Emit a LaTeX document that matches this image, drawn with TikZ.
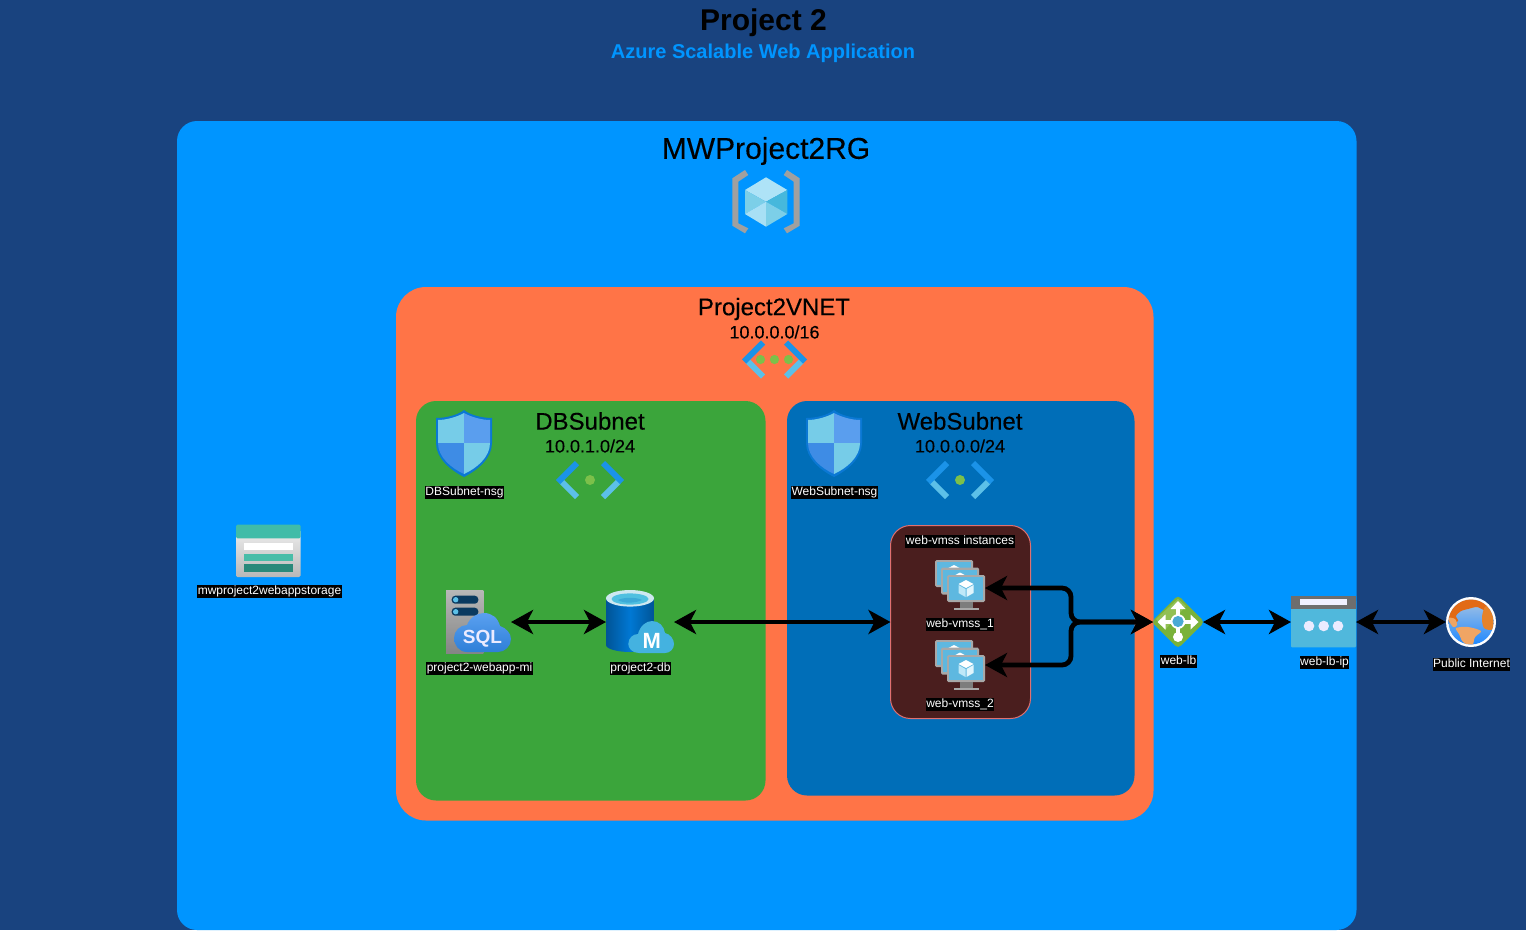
\documentclass[tikz,border=0pt]{standalone}
\usepackage{fontspec}
\setmainfont{Liberation Sans}
\newfontfamily\headfont[FakeBold=0.25]{Liberation Sans}
\usetikzlibrary{arrows.meta,calc}
\definecolor{pagebg}{HTML}{19437F}
\definecolor{rgblue}{HTML}{0095FF}
\definecolor{vnetor}{HTML}{FF7447}
\definecolor{dbgreen}{HTML}{3BA53B}
\definecolor{webblue}{HTML}{006EB8}
\definecolor{vmssbg}{HTML}{4A1E1E}
\definecolor{vmssbd}{HTML}{E07070}
\definecolor{chevd}{HTML}{1B93E8}
\definecolor{chevl}{HTML}{5CC0E8}
\definecolor{dotg}{HTML}{7CC04A}
\definecolor{vmframe}{HTML}{A8A8A8}
\definecolor{vmscreen}{HTML}{5EB8E0}
\tikzset{
  every node/.style={inner sep=0pt,outer sep=0pt},
  region/.style={rounded corners=#1},
  tlabel/.style={fill=black,text=white,font=\fontsize{12}{14}\selectfont,inner xsep=0.5pt,inner ysep=0.5pt,text height=9pt,text depth=3pt},
  heading/.style={text=black,font=\headfont\fontsize{#1}{#1}\selectfont},
  anchorbox/.style n args={2}{minimum width=#1,minimum height=#2,inner sep=0pt,outer sep=0pt},
  link/.style={draw=black,line width=4.8pt,{Stealth[length=22pt,width=24pt,inset=6pt]}-{Stealth[length=22pt,width=24pt,inset=6pt]}},
  elbow/.style={link,rounded corners=9pt},
}
% shield, centred on x=0, y from 0 (top) to 67
\newcommand\shieldicon[2]{%
  \begin{scope}[shift={(#1,#2)}]
    \fill[color={rgb,255:red,10;green,120;blue,212}] (0,0) .. controls (6,5) and (18,8) .. (28,8) -- (28,33) .. controls (28,48) and (14,60) .. (0,67) .. controls (-14,60) and (-28,48) .. (-28,33) -- (-28,8) .. controls (-18,8) and (-6,5) .. (0,0) -- cycle;
    \begin{scope}
      \clip (0,3) .. controls (7,7) and (18,10) .. (26,10) -- (26,33) .. controls (26,47) and (13,58) .. (0,64) .. controls (-13,58) and (-26,47) .. (-26,33) -- (-26,10) .. controls (-18,10) and (-7,7) .. (0,3) -- cycle;
      \fill[color={rgb,255:red,118;green,204;blue,232}] (-28,0) rectangle (0,33);
      \fill[color={rgb,255:red,90;green,158;blue,238}] (0,0) rectangle (28,33);
      \fill[color={rgb,255:red,62;green,140;blue,229}] (-28,33) rectangle (0,67);
      \fill[color={rgb,255:red,118;green,204;blue,232}] (0,33) rectangle (28,67);
    \end{scope}
  \end{scope}}
% chevrons, tip centre-line at half width #3
\newcommand\chevrons[3]{%
  \begin{scope}[shift={(#1,#2)}]
    \draw[chevl,line width=6pt] (-#3+1.5,1.5) -- (-#3+17,17);
    \draw[chevl,line width=6pt] (#3-1.5,1.5) -- (#3-17,17);
    \draw[chevd,line width=6pt,miter limit=4] (-#3-2,2) -- (-#3+17,-17);
    \draw[chevd,line width=6pt] (#3+2,2) -- (#3-17,-17);
  \end{scope}}
% small cube on monitor
\newcommand\smallcube[2]{%
  \begin{scope}[shift={(#1,#2)}]
    \fill[white] (0,-8) -- (7.5,-4) -- (0,0) -- (-7.5,-4) -- cycle;
    \fill[color={rgb,255:red,190;green,232;blue,248}] (-7.5,-3) -- (-0.5,1) -- (-0.5,9) -- (-7.5,5) -- cycle;
    \fill[color={rgb,255:red,225;green,245;blue,252}] (7.5,-3) -- (0.5,1) -- (0.5,9) -- (7.5,5) -- cycle;
  \end{scope}}
\newcommand\onemonitor[2]{%
  \fill[vmframe,rounded corners=1.5pt] (#1,#2) rectangle ++(38,27);
  \fill[vmscreen] ($(#1,#2)+(2.2,2.2)$) rectangle ++(33.6,22.4);
  \smallcube{#1+19}{#2+13}}
% monitor stack with front-monitor corner at (#1,#2)
\newcommand\vmstack[2]{%
  \begin{scope}[shift={(#1,#2)}]
    \onemonitor{-12}{-15}
    \onemonitor{-6}{-7.5}
    \onemonitor{0}{0}
    \fill[color={rgb,255:red,125;green,125;blue,125}] (12.5,27) rectangle (26,32.5);
    \fill[vmframe] (6.5,32.5) rectangle (32,35);
  \end{scope}}
\begin{document}
\begin{tikzpicture}[x=1pt,y=-1pt]
\useasboundingbox (0,0) rectangle (1526,930);
\fill[pagebg] (0,0) rectangle (1526,930);

% titles
\node[font=\fontsize{30}{30}\selectfont\bfseries,text=black] (title) at (763.5,23) {Project 2};
\node[font=\fontsize{20}{20}\selectfont\bfseries,text=rgblue] (subtitle) at (763,53) {Azure Scalable Web Application};

% regions
\fill[rgblue,region=20pt] (177,121) rectangle (1356.5,930);
\fill[vnetor,region=30pt] (396,287) rectangle (1153.5,820.5);
\fill[dbgreen,region=20pt] (416,401) rectangle (765.5,800.5);
\fill[webblue,region=20pt] (787,401) rectangle (1134.5,795.5);
\filldraw[fill=vmssbg,draw=vmssbd,line width=1pt,region=20pt] (890.5,525.5) rectangle (1030.5,718.5);
\node[anchorbox={140pt}{193pt}] (vmss) at (960.5,622) {};

% region headings
\node[heading=30] (rgname) at (766,151) {MWProject2RG};
\node[heading=24] (vnetname) at (774,309) {Project2VNET};
\node[heading=18] (vnetcidr) at (774.5,332) {10.0.0.0/16};
\node[heading=24] (dbname) at (590,421) {DBSubnet};
\node[heading=18] (dbcidr) at (590,446) {10.0.1.0/24};
\node[heading=24] (webname) at (960,421) {WebSubnet};
\node[heading=18] (webcidr) at (960,446) {10.0.0.0/24};

% resource group icon
\begin{scope}
  \fill[color={rgb,255:red,160;green,160;blue,160}] (732.3,178.3) -- (745,170) -- (748.3,175) -- (738.3,181.7) -- (738.3,223.3) -- (748.3,228.3) -- (745,233.3) -- (732.3,225.7) -- cycle;
  \fill[color={rgb,255:red,160;green,160;blue,160}] (799.7,178.3) -- (787,170) -- (783.7,175) -- (793.7,181.7) -- (793.7,223.3) -- (783.7,228.3) -- (787,233.3) -- (799.7,225.7) -- cycle;
  \fill[color={rgb,255:red,174;green,227;blue,247}] (766,177.3) -- (787.3,190) -- (766,201.7) -- (745,190) -- cycle;
  \fill[color={rgb,255:red,124;green,207;blue,232}] (745,190) -- (766,201.7) -- (745,214) -- cycle;
  \fill[color={rgb,255:red,70;green,184;blue,220}] (787.3,190) -- (766,201.7) -- (787.3,214) -- cycle;
  \fill[color={rgb,255:red,168;green,224;blue,245}] (745,214) -- (766,201.7) -- (766,226.7) -- cycle;
  \fill[color={rgb,255:red,124;green,207;blue,232}] (787.3,214) -- (766,201.7) -- (766,226.7) -- cycle;
\end{scope}

% vnet icon
\chevrons{774.5}{359.5}{28.5}
\foreach \dx in {-14,0,14} \fill[dotg] (774.5+\dx,359.5) circle (4.6);

% subnet icons
\chevrons{590}{480}{30}
\fill[dotg] (590,480) circle (5);
\chevrons{960}{480}{30}
\fill[dotg] (960,480) circle (5);

% NSG shields
\shieldicon{464}{410}
\shieldicon{834}{410}
\node[tlabel] (dbnsg) at (464.5,492.5) {DBSubnet-nsg};
\node[tlabel] (webnsg) at (834.5,492.5) {WebSubnet-nsg};

% storage account
\node[anchorbox={65pt}{53pt}] (storage) at (268.5,550.5) {};
\begin{scope}
  \shade[top color=white!93!black,bottom color=white!72!black,rounded corners=1.5pt] (236,530) rectangle (300.7,577);
  \fill[color={rgb,255:red,64;green,188;blue,168},rounded corners=1.5pt] (236,524.5) rectangle (300.7,538.3);
  \fill[white] (244,543.3) rectangle (292.7,550);
  \fill[color={rgb,255:red,72;green,189;blue,168}] (244,553.7) rectangle (292.7,560.7);
  \fill[color={rgb,255:red,40;green,137;blue,122}] (244,564.3) rectangle (292.7,571.7);
\end{scope}
\node[tlabel] (storagelbl) at (269.5,591.5) {mwproject2webappstorage};

% SQL managed instance
\node[anchorbox={65pt}{64pt}] (sql) at (478.5,622) {};
\shade[top color=white!72!black,bottom color=white!52!black] (446,590) rectangle (483.3,653.3);
\foreach \sy in {595.7,607.7} {
  \fill[color={rgb,255:red,10;green,58;blue,96},rounded corners=3.5pt] (451.7,\sy) rectangle (478.3,\sy+8);
  \fill[color={rgb,255:red,92;green,192;blue,232}] (455.7,\sy+4) circle (2.7);
}
\shade[top color={rgb,255:red,90;green,160;blue,240},bottom color={rgb,255:red,46;green,127;blue,216}] (467,652) .. controls (459,652) and (454,645) .. (454,638) .. controls (454,631) and (460,625) .. (467,625) .. controls (470,617) and (478,613) .. (484,613) .. controls (492,613) and (498,618) .. (500,626) .. controls (506,628) and (511,633) .. (511,639) .. controls (511,646) and (505,652) .. (498,652) -- cycle;
\node[font=\fontsize{19}{19}\selectfont\bfseries,text=white!92!blue] (sqltxt) at (482.5,639) {SQL};
\node[tlabel] (sqllbl) at (479.5,668.5) {project2-webapp-mi};

% database
\node[anchorbox={68pt}{64pt}] (db) at (640,622) {};
\shade[left color={rgb,255:red,0;green,84;blue,150},right color={rgb,255:red,0;green,84;blue,150},middle color={rgb,255:red,0;green,120;blue,212}] (606,598) -- (654,598) -- (654,645) .. controls (654,649) and (642,652) .. (630,652) .. controls (618,652) and (606,649) .. (606,645) -- cycle;
\fill[color={rgb,255:red,205;green,232;blue,240}] (630,598.3) ellipse (24 and 8.3);
\fill[color={rgb,255:red,80;green,192;blue,224}] (630,599) ellipse (18.5 and 5.6);
\fill[color={rgb,255:red,60;green,170;blue,215}] (618,600) .. controls (624,597) and (636,597) .. (642,600) .. controls (636,603) and (624,604) .. (618,600) -- cycle;
\fill[color={rgb,255:red,68;green,178;blue,224}] (639,653) .. controls (632,653) and (628.3,648) .. (628.3,644) .. controls (628.3,638) and (633,634) .. (638,634) .. controls (640,626) and (646,621) .. (652,621) .. controls (659,621) and (664,626) .. (665,633) .. controls (670,634) and (674,639) .. (674,644) .. controls (674,649) and (670,653) .. (665,653) -- cycle;
\node[font=\fontsize{22}{22}\selectfont\bfseries,text=white] (dbm) at (651.7,641) {M};
\node[tlabel] (dblbl) at (640.5,668.5) {project2-db};

% scale set
\node[tlabel] (vmsslbl) at (960,541.5) {web-vmss instances};
\vmstack{947}{575}
\node[anchorbox={38pt}{35pt}] (vm1) at (966,588) {};
\node[tlabel] (vm1lbl) at (960,624.5) {web-vmss\_1};
\vmstack{947}{655}
\node[anchorbox={38pt}{35pt}] (vm2) at (966,665) {};
\node[tlabel] (vm2lbl) at (960,704.5) {web-vmss\_2};

% load balancer
\node[anchorbox={50pt}{50pt}] (lb) at (1178,622) {};
\fill[color={rgb,255:red,122;green,178;blue,58},rounded corners=4pt] (1151.5,622) -- (1178,595.2) -- (1204.5,622) -- (1178,648.5) -- cycle;
\fill[color={rgb,255:red,146;green,192;blue,84}] (1156,619) -- (1178,598.7) -- (1186,606) -- (1165,630) -- cycle;
\draw[white,line width=3.4pt] (1162,622) -- (1194,622);
\draw[white,line width=3.4pt] (1178,606) -- (1178,637);
\fill[white] (1157.5,622) -- (1165.5,614.5) -- (1165.5,629.5) -- cycle;
\fill[white] (1198.5,622) -- (1190.5,614.5) -- (1190.5,629.5) -- cycle;
\fill[white] (1178,601) -- (1170.5,609) -- (1185.5,609) -- cycle;
\fill[white] (1178,637) circle (5);
\fill[white] (1178,621.5) circle (7.4);
\fill[color={rgb,255:red,74;green,170;blue,212}] (1178,621.5) circle (5.6);
\node[tlabel] (lblbl) at (1178.5,661.5) {web-lb};

% public ip
\node[anchorbox={65pt}{52pt}] (ip) at (1323.5,622) {};
\fill[color={rgb,255:red,80;green,184;blue,220},rounded corners=1pt] (1291,600) rectangle (1356,647.3);
\fill[color={rgb,255:red,110;green,110;blue,110}] (1291,595.7) rectangle (1356,609);
\fill[white!94!blue] (1300,599.3) rectangle (1347.3,605.3);
\foreach \px in {1309,1323.7,1338} \fill[white!92!blue] (\px,626) circle (5.3);
\node[tlabel] (iplbl) at (1324.5,662.5) {web-lb-ip};

% globe
\node[anchorbox={50pt}{50pt}] (globe) at (1471,622) {};
\fill[white] (1471,622) circle (25);
\begin{scope}
  \clip (1471,622) circle (22.5);
  \shade[top color={rgb,255:red,168;green,196;blue,226},bottom color={rgb,255:red,30;green,136;blue,255}] (1448,599) rectangle (1494,645);
  \begin{scope}[shift={(1471,622)}]
    \fill[color={rgb,255:red,226;green,106;blue,22}] plot[smooth cycle] coordinates {(-24,-10) (-14,-24) (0,-27) (16,-22) (14,-12) (6,-15) (-3,-13) (-10,-11) (-15,-6) (-13,-1) (-21,1)};
    \fill[color={rgb,255:red,230;green,130;blue,40}] plot[smooth cycle] coordinates {(15,-16) (26,-8) (22,7) (13,6) (11,-5)};
    \fill[color={rgb,255:red,240;green,165;blue,100}] plot[smooth cycle] coordinates {(-15,6) (-3,5) (10,9) (4,15) (1,24) (-8,20) (-12,12)};
    \fill[color={rgb,255:red,240;green,165;blue,100}] plot[smooth cycle] coordinates {(-23,-4) (-16,-3) (-14,3) (-18,5)};
  \end{scope}
\end{scope}
\node[tlabel] (globelbl) at (1471.5,664.5) {Public Internet};

% connectors
\coordinate (jn) at (1071,622);
\draw[link] (sql.east) -- (db.west);
\draw[link] (db.east) -- (vmss.west);
\draw[elbow] (lb.west) -- (jn) -- (jn |- vm1.east) -- (vm1.east);
\draw[elbow] (lb.west) -- (jn) -- (jn |- vm2.east) -- (vm2.east);
\draw[link] (lb.east) -- (ip.west);
\draw[link] (ip.east) -- (globe.west);
\end{tikzpicture}
\end{document}
